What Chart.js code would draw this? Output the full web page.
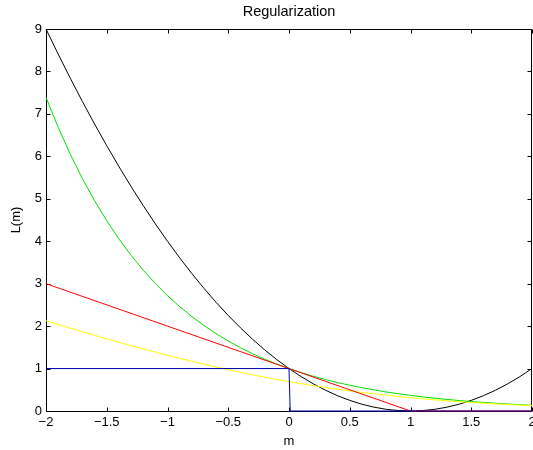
<!DOCTYPE html>
<html>
<head>
<meta charset="utf-8">
<script src="https://cdn.jsdelivr.net/npm/chart.js@4.4.0/dist/chart.umd.min.js"></script>
<style>
  html, body { margin: 0; padding: 0; background: #fff; }
  #wrap { width: 533px; height: 450px; }
</style>
</head>
<body>
<div id="wrap"><canvas id="c" width="533" height="450"></canvas></div>
<script>
// ---- data ----
const mValues = [-2,-1.9,-1.8,-1.7,-1.6,-1.5,-1.4,-1.3,-1.2,-1.1,-1,-0.9,-0.8,-0.7,-0.6,-0.5,-0.4,-0.3,-0.2,-0.1,0,
  0.1,0.2,0.3,0.4,0.5,0.6,0.7,0.8,0.9,1,1.1,1.2,1.3,1.4,1.5,1.6,1.7,1.8,1.9,2];
const blackValues = [9,8.41,7.84,7.29,6.76,6.25,5.76,5.29,4.84,4.41,4,3.61,3.24,2.89,2.56,2.25,1.96,1.69,1.44,1.21,1,
  0.81,0.64,0.49,0.36,0.25,0.16,0.09,0.04,0.01,0,0.01,0.04,0.09,0.16,0.25,0.36,0.49,0.64,0.81,1];
const greenValues = [7.389,6.686,6.050,5.474,4.953,4.482,4.055,3.669,3.320,3.004,2.718,2.460,2.226,2.014,1.822,1.649,1.492,1.350,1.221,1.105,1,
  0.905,0.819,0.741,0.670,0.607,0.549,0.497,0.449,0.407,0.368,0.333,0.301,0.273,0.247,0.223,0.202,0.183,0.165,0.150,0.135];
const yellowValues = [2.127,2.039,1.953,1.868,1.784,1.701,1.620,1.541,1.463,1.387,1.313,1.241,1.171,1.103,1.037,0.974,0.913,0.854,0.798,0.744,0.693,
  0.644,0.598,0.554,0.513,0.474,0.437,0.403,0.371,0.341,0.313,0.287,0.263,0.241,0.220,0.201,0.184,0.168,0.153,0.140,0.127];
const redM = [-2, 1, 2];
const redValues = [3, 0, 0];
const blueM = [-2, 0, 0.01, 2];
const blueValues = [1, 1, 0, 0];
const xTicks = [-2,-1.5,-1,-0.5,0,0.5,1,1.5,2];
const yTicks = [0,1,2,3,4,5,6,7,8,9];
const titleText = 'Regularization';
const xLabel = 'm';
const yLabel = 'L(m)';

function pts(xs, ys) { return xs.map((x, i) => ({ x: x, y: ys[i] })); }
function fmt(v) { return String(v).replace('-', '\u2212'); }

const FONT = '"Liberation Sans", Arial, sans-serif';

const boxPlugin = {
  id: 'boxTicks',
  beforeDatasetsDraw(chart) {
    const { ctx, chartArea: a, scales } = chart;
    ctx.save();
    ctx.strokeStyle = '#000';
    ctx.lineWidth = 1;
    ctx.beginPath();
    const L = Math.round(a.left) + 0.5, R = Math.round(a.right) - 0.5;
    const T = Math.round(a.top) + 0.5, B = Math.round(a.bottom) + 0.5;
    ctx.rect(L, T, R - L, B - T);
    const len = 4;
    xTicks.forEach(v => {
      const px = Math.round(scales.x.getPixelForValue(v)) + 0.5;
      ctx.moveTo(px, B); ctx.lineTo(px, B - len);
      ctx.moveTo(px, T); ctx.lineTo(px, T + len);
    });
    yTicks.forEach(v => {
      const py = Math.round(scales.y.getPixelForValue(v)) + 0.5;
      ctx.moveTo(L, py); ctx.lineTo(L + len, py);
      ctx.moveTo(R, py); ctx.lineTo(R - len, py);
    });
    ctx.stroke();
    // title
    ctx.fillStyle = '#000';
    ctx.font = '14.5px ' + FONT;
    ctx.textAlign = 'center';
    ctx.textBaseline = 'middle';
    ctx.fillText(titleText, (a.left + a.right) / 2, 12);
    ctx.restore();
  }
};

const lineDs = (label, data, color) => ({
  label, data, borderColor: color, borderWidth: 1, pointRadius: 0,
  showLine: true, fill: false, tension: 0, clip: 2
});

new Chart(document.getElementById('c'), {
  type: 'scatter',
  data: {
    datasets: [
      lineDs('0-1', pts(blueM, blueValues), '#0000b0'),
      lineDs('hinge', pts(redM, redValues), '#ff0000'),
      lineDs('logistic', pts(mValues, yellowValues), '#ffff00'),
      lineDs('exp', pts(mValues, greenValues), '#00e000'),
      lineDs('square', pts(mValues, blackValues), '#000000')
    ]
  },
  options: {
    responsive: false,
    devicePixelRatio: 1,
    animation: false,
    layout: { padding: { top: 29, right: 1, left: 0, bottom: 0 } },
    plugins: { legend: { display: false }, tooltip: { enabled: false }, title: { display: false } },
    scales: {
      x: {
        type: 'linear', min: -2, max: 2,
        grid: { display: false, drawTicks: false },
        border: { display: false },
        afterBuildTicks(s) { s.ticks = xTicks.map(v => ({ value: v })); },
        afterFit(s) { s.height = 39; s.paddingLeft = 0; s.paddingRight = 0; },
        ticks: { color: '#000', font: { family: FONT, size: 13 }, padding: 4, maxRotation: 0, autoSkip: false,
          callback: v => fmt(v) },
        title: { display: true, text: xLabel, color: '#000', font: { family: FONT, size: 13 }, padding: { top: 0, bottom: 1 } }
      },
      y: {
        type: 'linear', min: 0, max: 9,
        grid: { display: false, drawTicks: false },
        border: { display: false },
        afterBuildTicks(s) { s.ticks = yTicks.map(v => ({ value: v })); },
        afterFit(s) { s.width = 46; s.paddingTop = 0; s.paddingBottom = 0; },
        ticks: { color: '#000', font: { family: FONT, size: 13 }, padding: 4, autoSkip: false,
          callback: v => fmt(v) },
        title: { display: true, text: yLabel, color: '#000', font: { family: FONT, size: 13 }, padding: { top: 9, bottom: 0 } }
      }
    }
  },
  plugins: [boxPlugin]
});
</script>
</body>
</html>
